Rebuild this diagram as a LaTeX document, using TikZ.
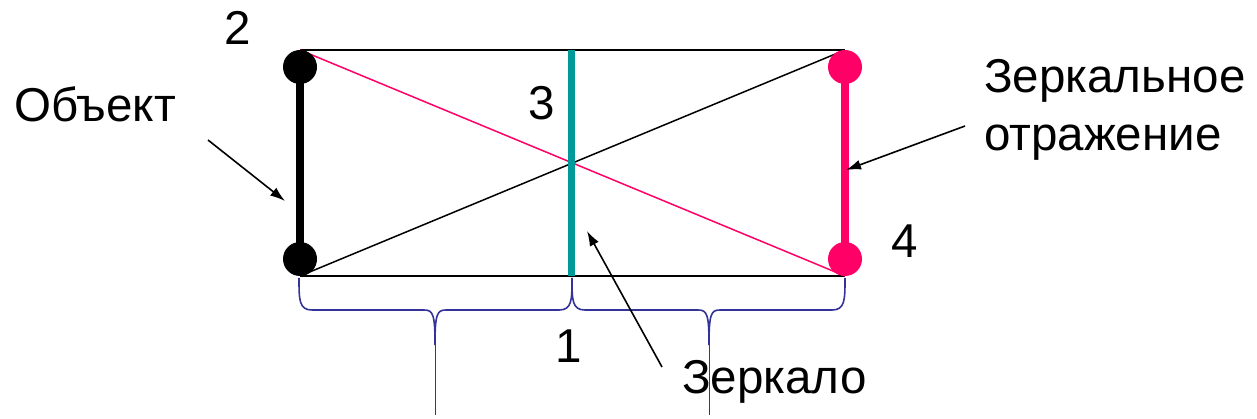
\documentclass[tikz,border=0pt]{standalone}
\usepackage{fontspec}
\setmainfont{Liberation Sans}
\definecolor{pinkc}{HTML}{FF0066}
\definecolor{tealc}{HTML}{009999}
\definecolor{bracec}{HTML}{333399}
\tikzset{
  lbl/.style={font=\fontsize{47.5}{52}\selectfont, inner sep=0pt, anchor=base west},
  dotb/.style={circle, fill=black, minimum size=34pt, inner sep=0pt},
  dotp/.style={circle, fill=pinkc, minimum size=34pt, inner sep=0pt},
  frame/.style={line width=2pt, black},
  brc/.style={line width=1.6pt, bracec},
  ptr/.style={line width=1.6pt, -{Latex[length=15pt,width=10pt]}},
}
\usetikzlibrary{arrows.meta}
\begin{document}
\begin{tikzpicture}[x=1pt,y=-1pt]
\useasboundingbox (0,0) rectangle (1257,419);
% corners
\coordinate (tl) at (300,50);
\coordinate (tr) at (845,50);
\coordinate (bl) at (300,276);
\coordinate (br) at (845,276);
\coordinate (mt) at (571,50);
\coordinate (mb) at (571,276);
% frame lines
\draw[frame] (tl) -- (tr);
\draw[frame] (bl) -- (br);
% diagonals
\draw[line width=1.5pt, pinkc] (tl) -- (br);
\draw[line width=1.5pt, black] (bl) -- (tr);
% mirror
\draw[line width=7pt, tealc] (mt) -- (mb);
% object and image
\node[dotb] (o1) at (300,67) {};
\node[dotb] (o2) at (300,259) {};
\draw[line width=8pt, black] (o1.center) -- (o2.center);
\node[dotp] (i1) at (845,67) {};
\node[dotp] (i2) at (845,259) {};
\draw[line width=8pt, pinkc] (i1.center) -- (i2.center);
% braces
\coordinate (b1) at (299,278);
\coordinate (b2) at (572,278);
\coordinate (b3) at (845,278);
\coordinate (t1) at (435,345);
\coordinate (t2) at (709,345);
\coordinate (e1) at (435,415);
\coordinate (e2) at (709,415);
\draw[brc] (b1) .. controls (299,300) and (299,310) .. (312,310) -- (424,310) .. controls (433,310) and (435,314) .. (t1);
\draw[brc] (b2) .. controls (572,300) and (572,310) .. (559,310) -- (446,310) .. controls (437,310) and (435,314) .. (t1);
\draw[line width=0.8pt, bracec] (t1) -- (e1);
\draw[brc] (b2) .. controls (572,300) and (572,310) .. (585,310) -- (698,310) .. controls (707,310) and (709,314) .. (t2);
\draw[brc] (b3) .. controls (845,300) and (845,310) .. (832,310) -- (720,310) .. controls (711,310) and (709,314) .. (t2);
\draw[line width=0.8pt, bracec] (t2) -- (e2);
% labels
\node[lbl] (n2) at (224,45) {2};
\node[lbl] (obj) at (14,122) {Объект};
\node[lbl] (n3) at (528,120) {3};
\node[lbl] (n4) at (891,258) {4};
\node[lbl] (n1) at (555,362) {1};
\node[lbl] (zr1) at (984,93) {Зеркальное};
\node[lbl] (zr2) at (984,151) {отражение};
\node[lbl] (zk) at (682,393) {Зеркало};
% pointers
\coordinate (ps1) at (208,140);
\coordinate (pe1) at (285,201);
\coordinate (ps2) at (965,126);
\coordinate (pe2) at (846,170);
\coordinate (ps3) at (662,367);
\coordinate (pe3) at (587,231);
\draw[ptr] (ps1) -- (pe1);
\draw[ptr] (ps2) -- (pe2);
\draw[ptr] (ps3) -- (pe3);
\end{tikzpicture}
\end{document}
